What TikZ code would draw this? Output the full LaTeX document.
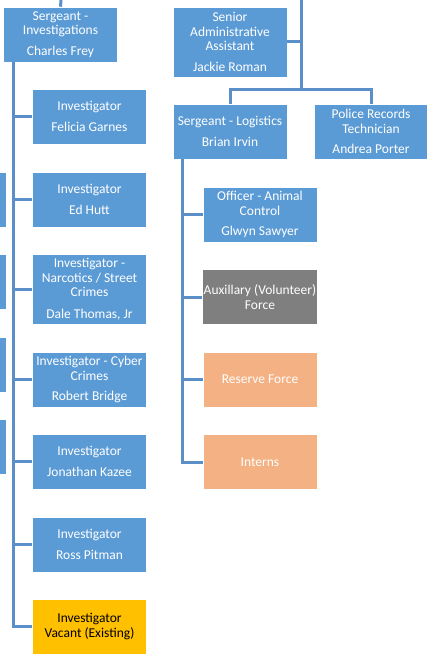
\documentclass[tikz,border=0pt]{standalone}
\usepackage{fontspec}
\setmainfont{Carlito}
\definecolor{boxblue}{HTML}{5B9BD5}
\definecolor{lineblue}{HTML}{5A8FCA}
\definecolor{boxgray}{HTML}{7F7F7F}
\definecolor{boxorange}{HTML}{F4B183}
\definecolor{boxgold}{HTML}{FFC000}
\begin{document}
\begin{tikzpicture}[x=1pt,y=-1pt,
  box/.style={rectangle, fill=boxblue, draw=white, line width=0.6pt,
    minimum width=114pt, minimum height=55pt, inner sep=1pt, align=center,
    text=white, font=\fontsize{13.5}{14.5}\selectfont},
  conn/.style={draw=lineblue, line width=3pt}]
\useasboundingbox (0,0) rectangle (426,655);
\fill[white] (0,0) rectangle (426,655);
% partial boxes at left edge
\node[box] (p1) at (-51,199.5) {};
\node[box] (p2) at (-51,281.5) {};
\node[box] (p3) at (-51,364.5) {};
\node[box] (p4) at (-51,446.5) {};
% top row
\node[box] (sinv) at (60.5,34.5) {Sergeant -\\Investigations\\[6pt]Charles Frey};
\node[box, minimum height=70pt] (saa) at (230,42) {Senior\\Administrative\\Assistant\\[6pt]Jackie Roman};
\node[box] (slog) at (230,131.5) {Sergeant - Logistics\\[6pt]Brian Irvin};
\node[box] (prt) at (371,131.5) {Police Records\\Technician\\[6pt]Andrea Porter};
% investigators
\node[box] (fel) at (89.5,116.5) {Investigator\\[6pt]Felicia Garnes};
\node[box] (ed) at (89.5,199.5) {Investigator\\[6pt]Ed Hutt};
\node[box, minimum height=70pt] (narc) at (89.5,289) {Investigator -\\Narcotics / Street\\Crimes\\[7pt]Dale Thomas, Jr};
\node[box] (cyb) at (89.5,379.5) {Investigator - Cyber\\Crimes\\[6pt]Robert Bridge};
\node[box] (kaz) at (89.5,461.5) {Investigator\\[6pt]Jonathan Kazee};
\node[box] (pit) at (89.5,544.5) {Investigator\\[6pt]Ross Pitman};
\node[box, fill=boxgold, text=black] (vac) at (89.5,626.5) {Investigator\\Vacant (Existing)};
% logistics
\node[box] (ani) at (260,214.5) {Officer - Animal\\Control\\[6pt]Glwyn Sawyer};
\node[box, fill=boxgray] (aux) at (260,297) {Auxillary (Volunteer)\\Force};
\node[box, fill=boxorange] (res) at (260,379.5) {Reserve Force};
\node[box, fill=boxorange] (int) at (260,462) {Interns};
% connectors
\coordinate (topA) at (61,0);
\draw[conn] (topA) -- (sinv.north);
\coordinate (topB) at (301,0);
\coordinate (busB) at (301,90);
\draw[conn] (topB) -- (busB);
\draw[conn] (saa.east) -- (saa.east -| busB);
\draw[conn] (busB) -| (slog.north);
\draw[conn] (busB) -| (prt.north);
\coordinate (invtop) at ([xshift=10pt]sinv.south west);
\foreach \n in {fel,ed,narc,cyb,kaz,pit,vac}{
  \draw[conn] (invtop) |- (\n.west);
}
\coordinate (logtop) at ([xshift=10pt]slog.south west);
\foreach \n in {ani,aux,res,int}{
  \draw[conn] (logtop) |- (\n.west);
}
\end{tikzpicture}
\end{document}
